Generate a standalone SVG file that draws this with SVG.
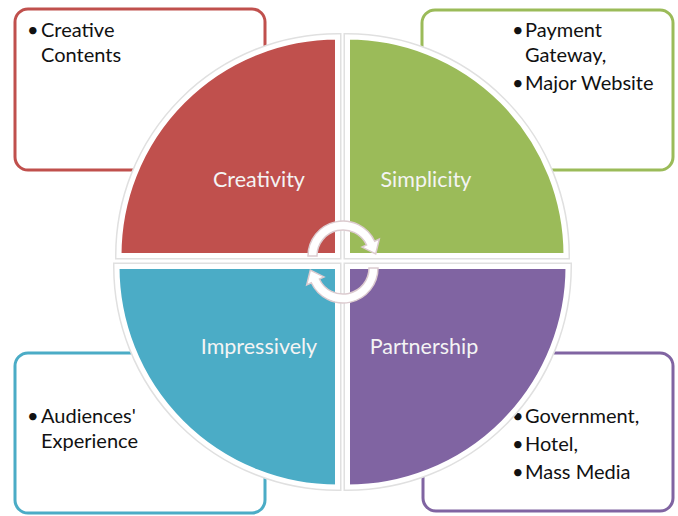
<svg xmlns="http://www.w3.org/2000/svg" width="678" height="516" viewBox="0 0 678 516">
<style>
.box{fill:#fff;stroke-width:3}
.btxt{font-family:Lato,"Open Sans",sans-serif;font-size:20px;fill:#111}
.qlbl{font-family:Lato,"Open Sans",sans-serif;font-size:21.5px;fill:#f4f4f4;text-anchor:middle}
.shadow{fill:none;stroke:#e0e0e0;stroke-width:8}
.qedge{stroke:#fff;stroke-width:5}
.arrow{fill:#fff;stroke:#dccbcf;stroke-width:1.5}
</style>
<rect width="678" height="516" fill="#fff"/>
<g id="box-creativity">
<rect class="box" x="15" y="9" width="250" height="161" rx="13" stroke="#c0504d"/>
<text class="btxt" x="27" y="37">•</text>
<text class="btxt" x="41" y="37">Creative</text>
<text class="btxt" x="41" y="62">Contents</text>
</g>
<g id="box-simplicity">
<rect class="box" x="422" y="10" width="251" height="160" rx="13" stroke="#9bbb59"/>
<text class="btxt" x="512" y="37">•</text>
<text class="btxt" x="525" y="37">Payment</text>
<text class="btxt" x="525" y="62">Gateway,</text>
<text class="btxt" x="512" y="90">•</text>
<text class="btxt" x="525" y="90">Major Website</text>
</g>
<g id="box-impressively">
<rect class="box" x="15" y="353" width="250" height="160" rx="13" stroke="#4bacc6"/>
<text class="btxt" x="27" y="423">•</text>
<text class="btxt" x="41" y="423">Audiences'</text>
<text class="btxt" x="41" y="448">Experience</text>
</g>
<g id="box-partnership">
<rect class="box" x="423" y="353" width="250" height="158" rx="13" stroke="#8064a2"/>
<text class="btxt" x="512" y="423">•</text>
<text class="btxt" x="525" y="423">Government,</text>
<text class="btxt" x="512" y="451">•</text>
<text class="btxt" x="525" y="451">Hotel,</text>
<text class="btxt" x="512" y="479">•</text>
<text class="btxt" x="525" y="479">Mass Media</text>
</g>
<g id="q-creativity">
<path class="shadow" d="M337.5 255.5 L119 255.5 A218.5 218.5 0 0 1 337.5 37 Z"/>
<path class="qedge" fill="#c0504d" d="M337.5 255.5 L119 255.5 A218.5 218.5 0 0 1 337.5 37 Z"/>
<text class="qlbl" x="259" y="187">Creativity</text>
</g>
<g id="q-simplicity">
<path class="shadow" d="M347.5 255.5 L347.5 37 A218.5 218.5 0 0 1 566 255.5 Z"/>
<path class="qedge" fill="#9bbb59" d="M347.5 255.5 L347.5 37 A218.5 218.5 0 0 1 566 255.5 Z"/>
<text class="qlbl" x="426" y="187">Simplicity</text>
</g>
<g id="q-impressively">
<path class="shadow" d="M337.5 266.5 L337.5 487 A220.5 220.5 0 0 1 117 266.5 Z"/>
<path class="qedge" fill="#4bacc6" d="M337.5 266.5 L337.5 487 A220.5 220.5 0 0 1 117 266.5 Z"/>
<text class="qlbl" x="259" y="354">Impressively</text>
</g>
<g id="q-partnership">
<path class="shadow" d="M347.5 266.5 L568 266.5 A220.5 220.5 0 0 1 347.5 487 Z"/>
<path class="qedge" fill="#8064a2" d="M347.5 266.5 L568 266.5 A220.5 220.5 0 0 1 347.5 487 Z"/>
<text class="qlbl" x="424" y="354">Partnership</text>
</g>
<g id="connectors">
<path class="arrow" d="M308 256 A35 35 0 0 1 374.7 241.2 L379.3 239.1 L375.7 254 L362 247.1 L366.6 245 A26 26 0 0 0 317 256 Z"/>
<path class="arrow" d="M378 268 A35 35 0 0 1 311.3 282.8 L306.7 284.9 L310.3 270 L324 276.9 L319.4 279 A26 26 0 0 0 369 268 Z"/>
</g>
</svg>
